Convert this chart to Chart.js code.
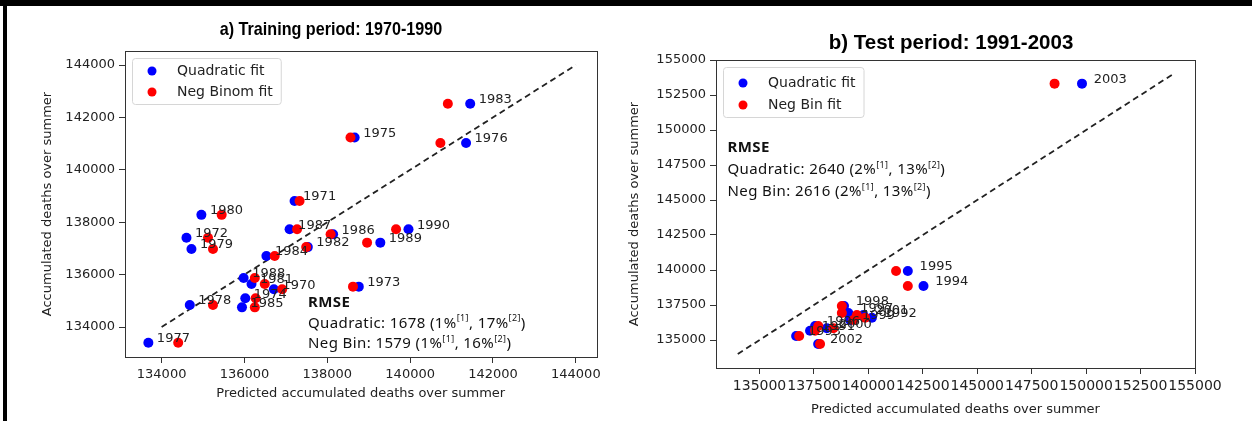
<!DOCTYPE html>
<html lang="en">
<head>
<meta charset="UTF-8">
<title>Accumulated deaths over summer: observed vs predicted</title>
<script src="https://cdn.jsdelivr.net/npm/chart.js"></script>
<style>
  html, body { margin: 0; padding: 0; background: #fff; }
  body { width: 1252px; height: 421px; position: relative; overflow: hidden; }
  .bar { position: absolute; background: #000; }
  .panel { position: absolute; top: 0; }
  .title { position: absolute; font-family: "Liberation Sans", Arial, sans-serif; font-weight: bold;
           color: #000; white-space: nowrap; transform-origin: center center; }
</style>
</head>
<body>
  <div class="bar" style="left:0;top:0;width:1252px;height:6px"></div>
  <div class="bar" style="left:3px;top:0;width:4px;height:421px"></div>

  <canvas id="chartA" class="panel" style="left:0" width="605" height="421"></canvas>
  <canvas id="chartB" class="panel" style="left:605px" width="647" height="421"></canvas>

  <div class="title" id="titleA" style="font-size:19px;line-height:19px;left:331px;top:19px;transform:translateX(-50%) scaleX(0.85)">a) Training period: 1970-1990</div>
  <div class="title" id="titleB" style="font-size:20.5px;line-height:21px;left:951px;top:31px;transform:translateX(-50%)">b) Test period: 1991-2003</div>

<script>
// a) training period 1970-1990 : observed vs predicted
const yearsA = [1970, 1971, 1972, 1973, 1974, 1975, 1976, 1977, 1978, 1979, 1980,
                1981, 1982, 1983, 1984, 1985, 1986, 1987, 1988, 1989, 1990];
const obsA  = [135440, 138810, 137410, 135540, 135100, 141230, 141020, 133400, 134840, 136980, 138280,
               135640, 137050, 142520, 136710, 134750, 137540, 137730, 135870, 137220, 137730];
const quadA = [136710, 137210, 134600, 138760, 136020, 138660, 141350, 133680, 134680, 134720, 134960,
               136170, 137530, 141450, 136530, 135940, 138140, 137090, 135980, 139280, 139960];
const nbA   = [136910, 137330, 135120, 138620, 136270, 138560, 140730, 134400, 135240, 135240, 135450,
               136490, 137490, 140910, 136730, 136250, 138080, 137270, 136250, 138960, 139660];
const ticksA = [134000, 136000, 138000, 140000, 142000, 144000];
const diagA  = [134000, 144000];

// b) test period 1991-2003
const yearsB = [1991, 1992, 1993, 1994, 1995, 1996, 1997, 1998, 1999, 2000, 2001, 2002, 2003];
const obsB  = [135660, 136590, 135290, 138860, 139930, 136000, 136930, 137430, 136430, 135840, 136790, 134710, 153310];
const quadB = [137320, 140160, 136680, 142530, 141810, 137550, 139080, 138880, 139160, 138090, 139770, 137690, 149810];
const nbB   = [137550, 139850, 136820, 141810, 141270, 137700, 138780, 138780, 139310, 138390, 139470, 137780, 148550];
const ticksB = [135000, 137500, 140000, 142500, 145000, 147500, 150000, 152500, 155000];
const diagB  = [134000, 154000];

// RMSE boxes: [text, superscript?]
const rmseA = [
  [['Quadratic: 1678 (1%', 0], ['[1]', 1], [', 17%', 0], ['[2]', 1], [')', 0]],
  [['Neg Bin: 1579 (1%', 0], ['[1]', 1], [', 16%', 0], ['[2]', 1], [')', 0]]
];
const rmseB = [
  [['Quadratic: 2640 (2%', 0], ['[1]', 1], [', 13%', 0], ['[2]', 1], [')', 0]],
  [['Neg Bin: 2616 (2%', 0], ['[1]', 1], [', 13%', 0], ['[2]', 1], [')', 0]]
];

const BLUE = '#0000ff', RED = '#ff0000';
const FONT = '"DejaVu Sans", sans-serif';
const NOTE_FONT = '"Noto Sans", "Open Sans", sans-serif';

const pts = (xs, ys) => xs.map((x, i) => ({x: x, y: ys[i]}));

// box around the plot area (matplotlib spines)
const frame = {
  id: 'frame',
  afterDraw(chart) {
    const {ctx, chartArea: a} = chart;
    ctx.save();
    ctx.strokeStyle = '#333';
    ctx.lineWidth = 1;
    ctx.strokeRect(Math.round(a.left) + 0.5, Math.round(a.top) + 0.5,
                   Math.round(a.right - a.left), Math.round(a.bottom - a.top));
    ctx.restore();
  }
};

// year label next to every quadratic-fit point
const yearLabels = {
  id: 'yearLabels',
  afterDatasetsDraw(chart, args, opts) {
    const ctx = chart.ctx;
    const meta = chart.getDatasetMeta(opts.dataset);
    ctx.save();
    ctx.font = '13px ' + FONT;
    ctx.fillStyle = '#222';
    ctx.textBaseline = 'middle';
    meta.data.forEach((p, i) => ctx.fillText(String(opts.years[i]), p.x + opts.dx, p.y - 4));
    ctx.restore();
  }
};

// legend box drawn inside the plot, upper left
const legendBox = {
  id: 'legendBox',
  afterDraw(chart, args, opts) {
    const {ctx, chartArea: a} = chart;
    const items = opts.items.map(i => chart.data.datasets[i]);
    ctx.save();
    ctx.font = '14px ' + FONT;
    const tw = Math.max(...items.map(d => ctx.measureText(d.label).width));
    const bx = a.left + 7, by = a.top + 7;
    const bw = 45 + tw + 8, bh = opts.h;
    ctx.beginPath();
    ctx.roundRect(bx + 0.5, by + 0.5, bw, bh, 3);
    ctx.fillStyle = 'rgba(255,255,255,0.85)';
    ctx.fill();
    ctx.strokeStyle = '#d6d6d6';
    ctx.lineWidth = 1;
    ctx.stroke();
    ctx.textBaseline = 'middle';
    items.forEach((d, i) => {
      const y = a.top + opts.y0 + i * opts.gap;
      ctx.beginPath();
      ctx.arc(a.left + 27, y, 4.5, 0, Math.PI * 2);
      ctx.fillStyle = d.backgroundColor;
      ctx.fill();
      ctx.fillStyle = '#222';
      ctx.fillText(d.label, a.left + 52, y);
    });
    ctx.restore();
  }
};

// RMSE text block with superscripts
const rmseNote = {
  id: 'rmseNote',
  afterDraw(chart, args, opts) {
    const {ctx, chartArea: a} = chart;
    const x0 = a.left + opts.x;
    ctx.save();
    ctx.fillStyle = '#111';
    ctx.textBaseline = 'middle';
    ctx.letterSpacing = opts.spacing + 'px';
    ctx.font = 'bold ' + opts.size + 'px ' + NOTE_FONT;
    ctx.fillText('RMSE', x0, a.top + opts.y);
    opts.lines.forEach((line, li) => {
      let x = x0;
      const y = a.top + opts.y + (li + 1) * opts.gap;
      line.forEach(([t, sup]) => {
        ctx.font = (sup ? opts.size * 0.6 : opts.size) + 'px ' + NOTE_FONT;
        ctx.fillText(t, x, sup ? y - 5 : y);
        x += ctx.measureText(t).width;
      });
    });
    ctx.restore();
  }
};

function axis(min, max, ticks, title, width, height, tickSize) {
  return {
    type: 'linear', min: min, max: max,
    afterBuildTicks: s => { s.ticks = ticks.map(v => ({value: v})); },
    afterFit: s => { if (width) s.width = width; if (height) s.height = height; },
    grid: {display: true, drawOnChartArea: false, drawTicks: true, tickLength: 6, color: '#333'},
    border: {display: false},
    ticks: {color: '#222', font: {family: FONT, size: tickSize}, padding: 4, maxRotation: 0, autoSkip: false,
            callback: v => String(v)},
    title: {display: true, text: title, color: '#222', font: {family: FONT, size: 13}, padding: 4}
  };
}

function makeChart(id, cfg) {
  return new Chart(document.getElementById(id), {
    type: 'scatter',
    data: {
      datasets: [
        {label: cfg.redLabel, data: pts(cfg.nb, cfg.obs), backgroundColor: RED, borderWidth: 0,
         pointRadius: 5, order: 0},
        {label: 'Quadratic fit', data: pts(cfg.quad, cfg.obs), backgroundColor: BLUE, borderWidth: 0,
         pointRadius: 5, order: 1},
        {type: 'line', label: 'y = x', data: pts(cfg.diag, cfg.diag), borderColor: '#222', borderWidth: 1.8,
         borderDash: [6, 4], pointRadius: 0, fill: false, order: 2}
      ]
    },
    options: {
      responsive: false,
      animation: false,
      events: [],
      layout: {padding: cfg.padding},
      plugins: {
        legend: {display: false},
        tooltip: {enabled: false},
        yearLabels: {dataset: 1, years: cfg.years, dx: cfg.dx},
        legendBox: {items: [1, 0], y0: cfg.legY0, gap: cfg.legGap, h: cfg.legH},
        rmseNote: Object.assign({lines: cfg.rmse}, cfg.note)
      },
      scales: {
        x: axis(cfg.xr[0], cfg.xr[1], cfg.ticks, 'Predicted accumulated deaths over summer', 0, cfg.xh, cfg.xTickSize),
        y: axis(cfg.yr[0], cfg.yr[1], cfg.ticks, 'Accumulated deaths over summer', cfg.yw, 0, 13)
      }
    },
    plugins: [frame, yearLabels, legendBox, rmseNote]
  });
}

makeChart('chartA', {
  years: yearsA, obs: obsA, quad: quadA, nb: nbA, diag: diagA, ticks: ticksA,
  redLabel: 'Neg Binom fit', rmse: rmseA,
  xr: [133116, 144500], yr: [132855, 144535],
  padding: {left: 36, top: 51, right: 8, bottom: 16}, yw: 89, xh: 48, xTickSize: 13,
  dx: 8.5, legY0: 20, legGap: 21, legH: 46,
  note: {x: 183, y: 252, gap: 20.5, size: 15, spacing: 0.4}
});

makeChart('chartB', {
  years: yearsB, obs: obsB, quad: quadB, nb: nbB, diag: diagB, ticks: ticksB,
  redLabel: 'Neg Bin fit', rmse: rmseB,
  xr: [133000, 155000], yr: [133000, 155000],
  padding: {left: 18, top: 60, right: 57, bottom: 0}, yw: 93, xh: 53, xTickSize: 14,
  dx: 11.8, legY0: 23, legGap: 22, legH: 50,
  note: {x: 11.5, y: 88, gap: 22, size: 15, spacing: 0.4}
});
</script>
</body>
</html>
